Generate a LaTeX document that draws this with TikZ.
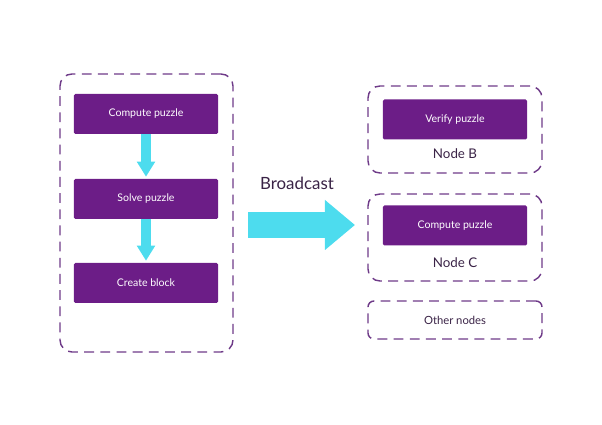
\documentclass[tikz,border=0pt]{standalone}
\usepackage{fontspec}
\setmainfont{Lato}
\usepackage{xcolor}
\usetikzlibrary{shapes, arrows.meta, calc}
\definecolor{violet1}{HTML}{6C1D87}
\definecolor{violet2}{HTML}{6E3A88}
\definecolor{texte}{HTML}{3A2346}
\definecolor{cyan1}{HTML}{4DDCEE}
\tikzstyle{etape} = [rectangle, rounded corners=1pt, fill=violet1, text=white, minimum height=10mm, minimum width=36mm, font=\fontsize{7.5}{9}\selectfont]
\tikzstyle{cadre} = [rectangle, rounded corners=3mm, draw=violet2, line width=1pt, dash pattern=on 7pt off 4.5pt]
\tikzstyle{fleche} = [draw=cyan1, line width=2.3mm, -{Triangle[width=4.4mm, length=3.8mm]}]
\tikzstyle{etiquette} = [text=texte, font=\fontsize{9.5}{11}\selectfont]

\begin{document}
\begin{tikzpicture}[x=0.25mm, y=-0.25mm]
    \useasboundingbox (0,0) rectangle (602,425);

    % mineur qui trouve le bloc
    \node (mineur) [cadre, minimum width=43.25mm, minimum height=69.5mm] at (146.5,213) {};
    \node (compute) [etape] at (146,114) {Compute puzzle};
    \node (solve) [etape] at (146,199) {Solve puzzle};
    \node (create) [etape] at (146,283) {Create block};

    \draw[fleche] (compute.south) -- ($(solve.north) + (0,-2)$);
    \draw[fleche] (solve.south) -- ($(create.north) + (0,-2)$);

    % diffusion
    \node (broadcast) [text=texte, font=\fontsize{12}{14}\selectfont] at (297,183) {Broadcast};
    \coordinate (depart) at (248,225);
    \coordinate (arrivee) at (355,225);
    \draw[draw=cyan1, line width=6.5mm, -{Triangle[width=12mm, length=7.5mm]}] (depart) -- (arrivee);

    % autres noeuds
    \node (nodeb) [cadre, minimum width=43.5mm, minimum height=21.75mm] at (455,129.5) {};
    \node (verify) [etape] at (455,119.5) {Verify puzzle};
    \node (labelb) [etiquette] at (455,154) {Node B};

    \node (nodec) [cadre, minimum width=43.5mm, minimum height=21.75mm] at (455,237.5) {};
    \node (computec) [etape] at (455,225.5) {Compute puzzle};
    \node (labelc) [etiquette] at (455,263) {Node C};

    \node (autres) [cadre, rounded corners=1.5mm, minimum width=43.5mm, minimum height=9.5mm, text=texte, font=\fontsize{8}{10}\selectfont] at (455,320) {Other nodes};
\end{tikzpicture}
\end{document}
